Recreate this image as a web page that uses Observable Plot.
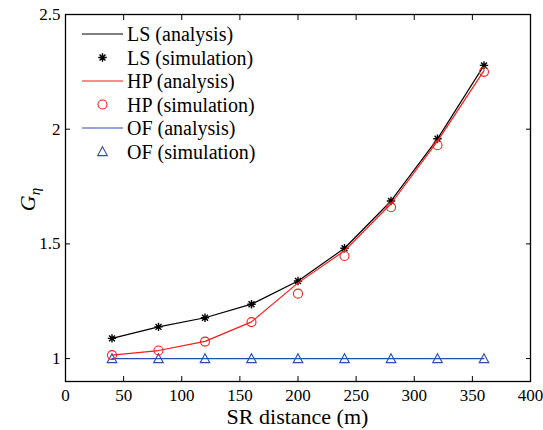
<!DOCTYPE html>
<html>
<head>
<meta charset="utf-8">
<script src="https://cdn.jsdelivr.net/npm/d3@7"></script>
<script src="https://cdn.jsdelivr.net/npm/@observablehq/plot@0.6"></script>
<style>
  html, body { margin: 0; padding: 0; background: #fff; }
  #chart svg { display: block; }
  #chart svg text { font-family: "Liberation Serif", "Times New Roman", serif !important; }
</style>
</head>
<body>
<div id="chart"></div>
<script>
// ---- data ----
const distance = [40, 80, 120, 160, 200, 240, 280, 320, 360];
const lsAnalysis = [1.088, 1.138, 1.178, 1.237, 1.338, 1.481, 1.687, 1.958, 2.278];
const lsSimulation = [1.088, 1.138, 1.178, 1.237, 1.338, 1.481, 1.687, 1.958, 2.278];
const hpAnalysis = [1.015, 1.035, 1.075, 1.160, 1.330, 1.470, 1.675, 1.948, 2.255];
const hpSimulation = [1.015, 1.035, 1.074, 1.159, 1.283, 1.447, 1.660, 1.930, 2.250];
const ofAnalysis = [1, 1, 1, 1, 1, 1, 1, 1, 1];
const ofSimulation = [1, 1, 1, 1, 1, 1, 1, 1, 1];
const xTicks = [0, 50, 100, 150, 200, 250, 300, 350, 400];
const yTicks = [1, 1.5, 2, 2.5];
const legendLabels = ["LS (analysis)", "LS (simulation)", "HP (analysis)", "HP (simulation)", "OF (analysis)", "OF (simulation)"];

const BLACK = "#000000", RED = "#ff1a1a", BLUE = "#2a4db3";
const FONT = "'Liberation Serif', 'Times New Roman', serif";

const toRows = (vals) => distance.map((d, i) => ({x: d, y: vals[i]}));

// custom MATLAB-like symbols
const asterisk8 = {
  draw(ctx, size) {
    const r = Math.sqrt(size / Math.PI);
    for (let k = 0; k < 4; k++) {
      const a = k * Math.PI / 4;
      ctx.moveTo(r * Math.cos(a), r * Math.sin(a));
      ctx.lineTo(-r * Math.cos(a), -r * Math.sin(a));
    }
  }
};
const triangleUp = {
  draw(ctx, size) {
    const r = Math.sqrt(size / Math.PI);
    ctx.moveTo(0, -r);
    ctx.lineTo(r, r * 0.85);
    ctx.lineTo(-r, r * 0.85);
    ctx.closePath();
  }
};

const W = 543, H = 430;
const mL = 65, mR = 13, mT = 14, mB = 49;

const plot = Plot.plot({
  width: W, height: H,
  marginLeft: mL, marginRight: mR, marginTop: mT, marginBottom: mB,
  x: {domain: [0, 400]},
  y: {domain: [0.9, 2.5]},
  style: `font-family: ${FONT}; background: #fff;`,
  marks: [
    Plot.line(toRows(ofAnalysis), {x: "x", y: "y", stroke: BLUE, strokeWidth: 1.2}),
    Plot.dot(toRows(ofSimulation), {x: "x", y: "y", symbol: triangleUp, r: 4.8, stroke: BLUE, strokeWidth: 1.1, fill: "none"}),
    Plot.line(toRows(lsAnalysis), {x: "x", y: "y", stroke: BLACK, strokeWidth: 1.2}),
    Plot.dot(toRows(lsSimulation), {x: "x", y: "y", symbol: asterisk8, r: 4.2, stroke: BLACK, strokeWidth: 1.4, fill: "none"}),
    Plot.line(toRows(hpAnalysis), {x: "x", y: "y", stroke: RED, strokeWidth: 1.2}),
    Plot.dot(toRows(hpSimulation), {x: "x", y: "y", symbol: "circle", r: 4.5, stroke: RED, strokeWidth: 1.1, fill: "none"}),
    // tick labels
    Plot.axisX({anchor: "bottom", ticks: xTicks, tickSize: 0, tickPadding: 7, fontSize: 17, label: null, fill: "black"}),
    Plot.axisY({anchor: "left", ticks: yTicks, tickSize: 0, tickPadding: 5, fontSize: 17, label: null, fill: "black", tickFormat: d => String(d)}),
    // inward ticks on all four sides
    Plot.axisX({anchor: "bottom", ticks: xTicks, tickSize: -5, tickFormat: () => "", label: null}),
    Plot.axisX({anchor: "top", ticks: xTicks, tickSize: -5, tickFormat: () => "", label: null}),
    Plot.axisY({anchor: "left", ticks: yTicks, tickSize: -5, tickFormat: () => "", label: null}),
    Plot.axisY({anchor: "right", ticks: yTicks, tickSize: -5, tickFormat: () => "", label: null}),
    Plot.frame({stroke: "black", strokeWidth: 1.3})
  ]
});

document.getElementById("chart").appendChild(plot);

// axis titles and legend
const svg = d3.select(plot);
svg.style("font-family", FONT, "important");
const plotRight = W - mR, plotBottom = H - mB;

svg.append("text")
  .attr("x", (mL + plotRight) / 2)
  .attr("y", plotBottom + 43)
  .attr("text-anchor", "middle")
  .attr("font-size", 22)
  .attr("fill", "black")
  .text("SR distance (m)");

const yl = svg.append("text")
  .attr("transform", `translate(${35},${(mT + plotBottom) / 2 + 2}) rotate(-90)`)
  .attr("text-anchor", "middle")
  .attr("font-size", 22)
  .attr("fill", "black");
yl.append("tspan").attr("font-style", "italic").text("G");
yl.append("tspan").attr("font-style", "italic").attr("font-size", 15).attr("dy", 5).text("η");

const legendItems = [
  {label: legendLabels[0], color: BLACK, kind: "line"},
  {label: legendLabels[1], color: BLACK, kind: "asterisk"},
  {label: legendLabels[2], color: RED, kind: "line"},
  {label: legendLabels[3], color: RED, kind: "circle"},
  {label: legendLabels[4], color: BLUE, kind: "line"},
  {label: legendLabels[5], color: BLUE, kind: "triangle"}
];
const lg = svg.append("g").attr("text-anchor", "start");
const lx0 = 82, lx1 = 123, ltx = 127, ly0 = 34, ldy = 23.5;
legendItems.forEach((it, i) => {
  const y = ly0 + i * ldy;
  const cx = (lx0 + lx1) / 2;
  if (it.kind === "line") {
    lg.append("line").attr("x1", lx0).attr("x2", lx1).attr("y1", y).attr("y2", y)
      .attr("stroke", it.color).attr("stroke-width", 1.2);
  } else if (it.kind === "asterisk") {
    const sym = d3.symbol().type(asterisk8).size(Math.PI * 4.2 * 4.2);
    lg.append("path").attr("d", sym()).attr("transform", `translate(${cx},${y})`)
      .attr("stroke", it.color).attr("stroke-width", 1.4).attr("fill", "none");
  } else if (it.kind === "circle") {
    lg.append("circle").attr("cx", cx).attr("cy", y).attr("r", 4.5)
      .attr("stroke", it.color).attr("stroke-width", 1.1).attr("fill", "none");
  } else {
    const sym = d3.symbol().type(triangleUp).size(Math.PI * 4.8 * 4.8);
    lg.append("path").attr("d", sym()).attr("transform", `translate(${cx},${y})`)
      .attr("stroke", it.color).attr("stroke-width", 1.1).attr("fill", "none");
  }
  lg.append("text").attr("x", ltx).attr("y", y).attr("dy", "0.35em")
    .attr("text-anchor", "start")
    .attr("font-size", 20).attr("fill", "black").text(it.label);
});
svg.selectAll("text").attr("font-family", FONT).style("font-family", FONT);
</script>
</body>
</html>
